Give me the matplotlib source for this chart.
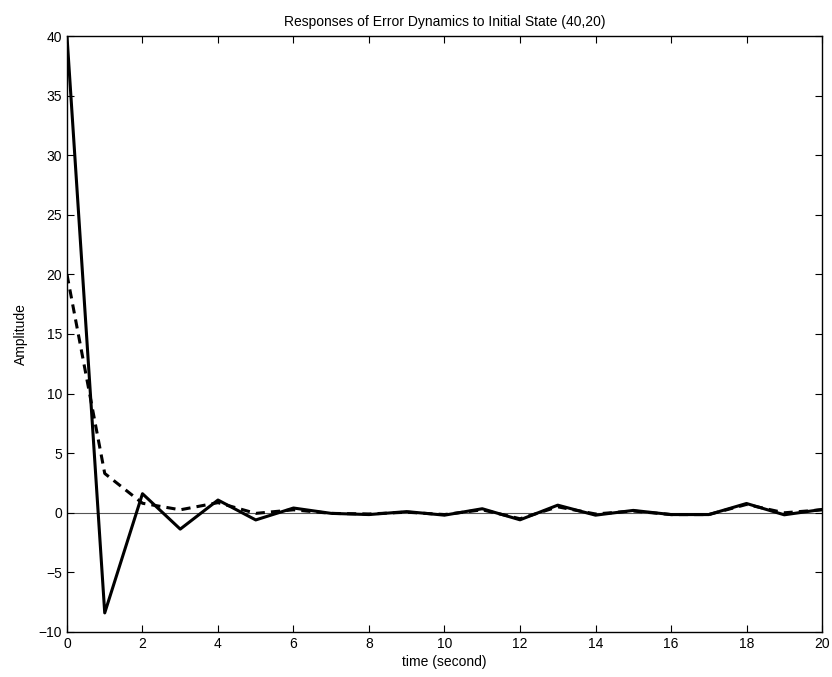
import numpy as np
import matplotlib.pyplot as plt

plt.rcParams['font.family'] = ['Liberation Sans', 'DejaVu Sans']

# sample times and the two error states
t = list(range(21))
e1 = [40, -8.4, 1.6, -1.37, 1.07, -0.6, 0.4, -0.05, -0.15, 0.1, -0.2,
      0.34, -0.59, 0.64, -0.2, 0.2, -0.15, -0.15, 0.78, -0.17, 0.28]
e2 = [20, 3.3, 0.8, 0.25, 0.85, -0.05, 0.25, -0.05, -0.1, 0.05, -0.15,
      0.25, -0.5, 0.5, -0.1, 0.15, -0.15, -0.15, 0.7, 0.0, 0.25]

yticks = [-10, -5, 0, 5, 10, 15, 20, 25, 30, 35, 40]
xticks = list(range(0, 21, 2))

fig = plt.figure(figsize=(8.32, 6.77), dpi=100)
ax = fig.add_axes([0.0805, 0.0665, 0.9075, 0.8803])

ax.axhline(0, color='#555555', lw=0.8, zorder=1)
ax.plot(t, e1, color='black', lw=2.2, zorder=3)
ax.plot(t, e2, color='black', lw=2.2, ls=(0, (3, 2)), zorder=2)

ax.set_xlim(0, 20)
ax.set_ylim(-10, 40)
ax.set_xticks(xticks)
ax.set_yticks(yticks)
ax.set_yticklabels([str(v).replace('-', '\u2212') for v in yticks])
ax.tick_params(direction='in', top=True, right=True, labelsize=10, length=5, width=0.8)
for s in ax.spines.values():
    s.set_linewidth(1.0)

ax.set_title("Responses of Error Dynamics to Initial State (40,20)", fontsize=10, pad=7)
ax.set_xlabel("time (second)", fontsize=10, labelpad=3)
ax.set_ylabel("Amplitude", fontsize=10, labelpad=8)

plt.savefig("out.png", dpi=100)
